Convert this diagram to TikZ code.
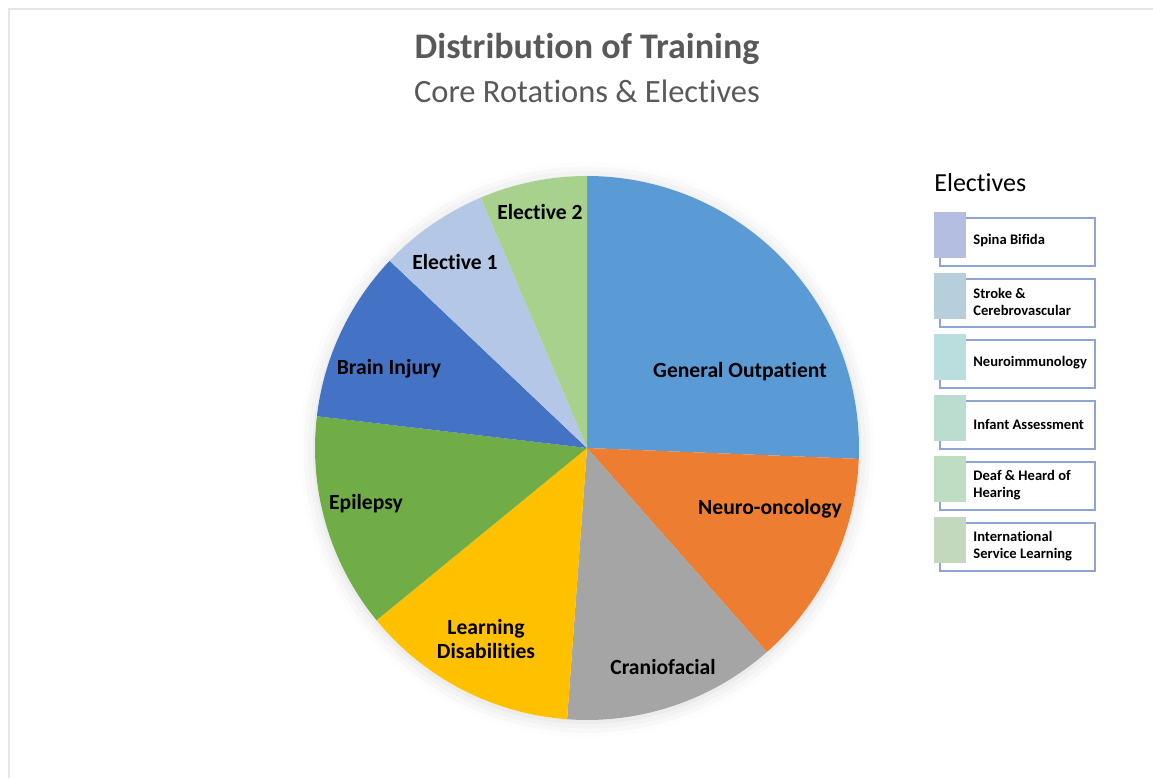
\documentclass[tikz,border=0pt]{standalone}
\usepackage{fontspec}
\setmainfont{Carlito}[Ligatures=NoCommon]
\usetikzlibrary{shadows.blur}

\definecolor{titlegray}{RGB}{89,89,89}
\definecolor{framegray}{RGB}{230,230,230}
\definecolor{genblue}{RGB}{91,155,213}
\definecolor{neuroorange}{RGB}{237,125,49}
\definecolor{craniogray}{RGB}{165,165,165}
\definecolor{learnyellow}{RGB}{255,192,0}
\definecolor{epilgreen}{RGB}{112,173,71}
\definecolor{brainblue}{RGB}{68,114,196}
\definecolor{elonelight}{RGB}{180,199,231}
\definecolor{eltwolight}{RGB}{169,209,142}
\definecolor{keyline}{RGB}{143,163,213}
\definecolor{keya}{RGB}{180,190,224}
\definecolor{keyb}{RGB}{183,207,219}
\definecolor{keyc}{RGB}{185,222,221}
\definecolor{keyd}{RGB}{187,221,207}
\definecolor{keye}{RGB}{190,221,194}
\definecolor{keyf}{RGB}{195,217,189}

\begin{document}
\begin{tikzpicture}[x=0.02cm,y=0.02cm,
	slicelabel/.style={font=\bfseries\fontsize{12.3}{14}\selectfont, text=black, align=center, inner sep=0pt},
	keybox/.style={draw=keyline, line width=0.6pt, fill=white},
	keytext/.style={font=\bfseries\fontsize{8.3}{9.5}\selectfont, align=left, anchor=west, inner sep=0pt}]
	\useasboundingbox (0,0) rectangle (1153,778);
	\draw[framegray, line width=0.8pt] (9,0) -- (9,769) -- (1153,769);
	\node[font=\bfseries\fontsize{20.5}{24}\selectfont, text=titlegray] (title) at (587,729) {Distribution of Training};
	\node[font=\fontsize{18.5}{22}\selectfont, text=titlegray] (subtitle) at (587,687) {Core Rotations \& Electives};
	% pie
	\coordinate (c) at (587,330);
	\fill[white, blur shadow={shadow xshift=0pt, shadow yshift=-1pt, shadow blur radius=9pt, shadow opacity=15}] (c) circle[radius=272];
	\foreach \a/\b/\col in {90/-2.3/genblue, -2.3/-48.6/neuroorange, -48.6/-94.2/craniogray, -94.2/-140.7/learnyellow, 219.3/173.3/epilgreen, 173.3/136.5/brainblue, 136.5/113/elonelight, 113/90/eltwolight}
		\fill[\col] (c) -- ++(\a:272) arc[start angle=\a, end angle=\b, radius=272] -- cycle;
	\node[slicelabel] (gen) at (740,406) {General Outpatient};
	\node[slicelabel] (neuro) at (770,269) {Neuro-oncology};
	\node[slicelabel] (cranio) at (663,111) {Craniofacial};
	\node[slicelabel] (learn) at (486,139) {Learning\\Disabilities};
	\node[slicelabel] (epil) at (366,274) {Epilepsy};
	\node[slicelabel] (brain) at (389,409) {Brain Injury};
	\node[slicelabel] (elone) at (455,516) {Elective 1};
	\node[slicelabel] (eltwo) at (540,566) {Elective 2};
	% legend
	\node[font=\fontsize{14.8}{17}\selectfont, anchor=west, inner sep=0pt] (keytitle) at (934,595) {Electives};
	\foreach \col/\txt [count=\i from 0] in {keya/{Spina Bifida}, keyb/{Stroke \&\\Cerebrovascular}, keyc/{Neuroimmunology}, keyd/{Infant Assessment}, keye/{Deaf \& Heard of\\Hearing}, keyf/{International\\Service Learning}}
	{
		\pgfmathsetmacro{\ytop}{778-212-61*\i}
		\draw[keybox] (940,\ytop-54) rectangle (1095,\ytop-6);
		\fill[\col] (934,\ytop-46) rectangle (966,\ytop);
		\node[keytext] (key\i) at (973,\ytop-29) {\txt};
	}
\end{tikzpicture}
\end{document}
